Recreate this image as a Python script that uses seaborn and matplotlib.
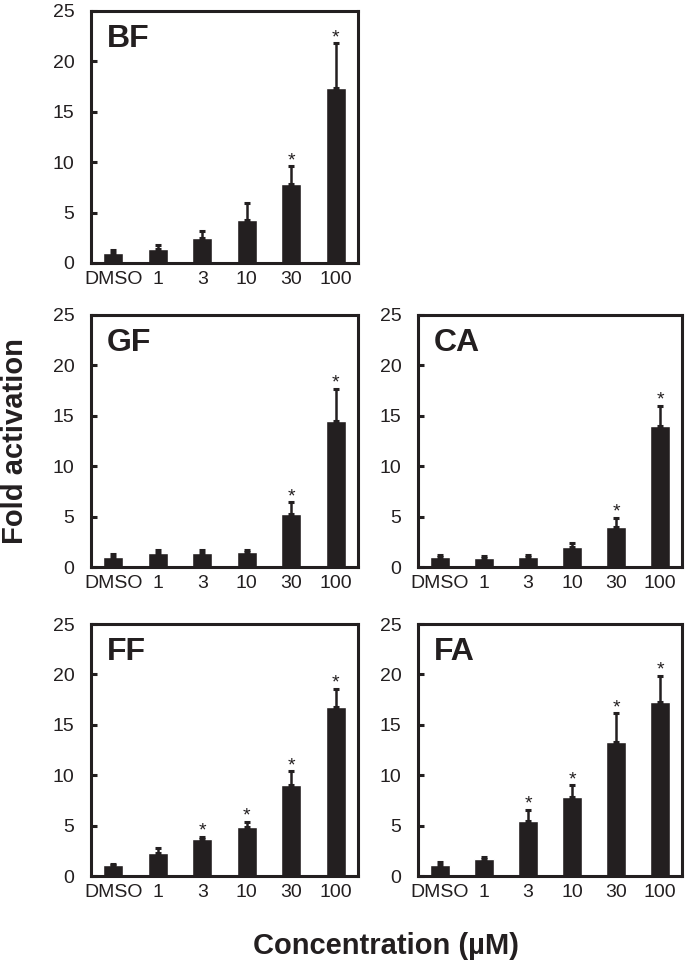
import matplotlib
matplotlib.use("Agg")
import matplotlib.pyplot as plt
import seaborn as sns
import pandas as pd

sns.set_style("ticks")
plt.rcParams['font.family'] = ['Liberation Sans', 'DejaVu Sans']

ink = "#231f20"

doses = ["DMSO", "1", "3", "10", "30", "100"]

bf_mean = [1.0, 1.4, 2.5, 4.3, 7.8, 17.4]
bf_err = [0.3, 0.4, 0.7, 1.7, 1.8, 4.4]
bf_sig = [0, 0, 0, 0, 1, 1]

gf_mean = [1.0, 1.4, 1.4, 1.5, 5.3, 14.5]
gf_err = [0.3, 0.3, 0.25, 0.2, 1.1, 3.2]
gf_sig = [0, 0, 0, 0, 1, 1]

ca_mean = [1.0, 0.9, 1.0, 2.0, 4.0, 14.0]
ca_err = [0.2, 0.2, 0.15, 0.4, 0.9, 2.0]
ca_sig = [0, 0, 0, 0, 1, 1]

ff_mean = [1.05, 2.3, 3.7, 4.9, 9.0, 16.8]
ff_err = [0.15, 0.45, 0.2, 0.5, 1.4, 1.8]
ff_sig = [0, 0, 1, 1, 1, 1]

fa_mean = [1.1, 1.7, 5.5, 7.8, 13.3, 17.3]
fa_err = [0.25, 0.15, 1.1, 1.2, 2.85, 2.55]
fa_sig = [0, 0, 1, 1, 1, 1]

panels = [
    ("BF", bf_mean, bf_err, bf_sig, [0.1328, 0.7269, 0.3898, 0.2617]),
    ("GF", gf_mean, gf_err, gf_sig, [0.1328, 0.4112, 0.3898, 0.2617]),
    ("CA", ca_mean, ca_err, ca_sig, [0.6102, 0.4112, 0.3854, 0.2617]),
    ("FF", ff_mean, ff_err, ff_sig, [0.1328, 0.0903, 0.3898, 0.2617]),
    ("FA", fa_mean, fa_err, fa_sig, [0.6102, 0.0903, 0.3854, 0.2617]),
]

fig = plt.figure(figsize=(6.85, 9.63), dpi=100)

for name, mean, err, sig, rect in panels:
    ax = fig.add_axes(rect)
    df = pd.DataFrame({"dose": doses, "fold": mean})
    sns.barplot(data=df, x="dose", y="fold", order=doses, color=ink,
                saturation=1, width=0.45, errorbar=None, ax=ax)
    xs = list(range(len(doses)))
    ax.errorbar(xs, mean, yerr=[[0] * len(err), err], fmt="none",
                ecolor=ink, elinewidth=1.8, capsize=2.4, capthick=2.2)
    for x, m, e, s in zip(xs, mean, err, sig):
        if s:
            ax.text(x, m + e + 0.1, "*", ha="center", va="baseline",
                    fontsize=14, color=ink)
    ax.set_xlim(-0.5, 5.5)
    ax.set_ylim(0, 25)
    ax.set_yticks([0, 5, 10, 15, 20, 25])
    ax.set_xlabel("")
    ax.set_ylabel("")
    for sp in ax.spines.values():
        sp.set_visible(True)
        sp.set_linewidth(2.2)
        sp.set_color(ink)
    ax.tick_params(axis="y", direction="in", length=4, width=2.2,
                   color=ink, labelsize=14, labelcolor=ink, pad=12)
    ax.tick_params(axis="x", length=0, labelsize=14, labelcolor=ink, pad=6)
    ax.text(0.06, 0.95, name, transform=ax.transAxes, ha="left", va="top",
            fontsize=23, fontweight="bold", color=ink)

fig.text(0.022, 0.542, "Fold activation", rotation=90, ha="center",
         va="center", fontsize=21, fontweight="bold", color=ink)
fig.text(0.564, 0.0093, "Concentration (\u00b5M)", ha="center",
         va="baseline", fontsize=21, fontweight="bold", color=ink)

fig.savefig("out.png", dpi=100, facecolor="white")
